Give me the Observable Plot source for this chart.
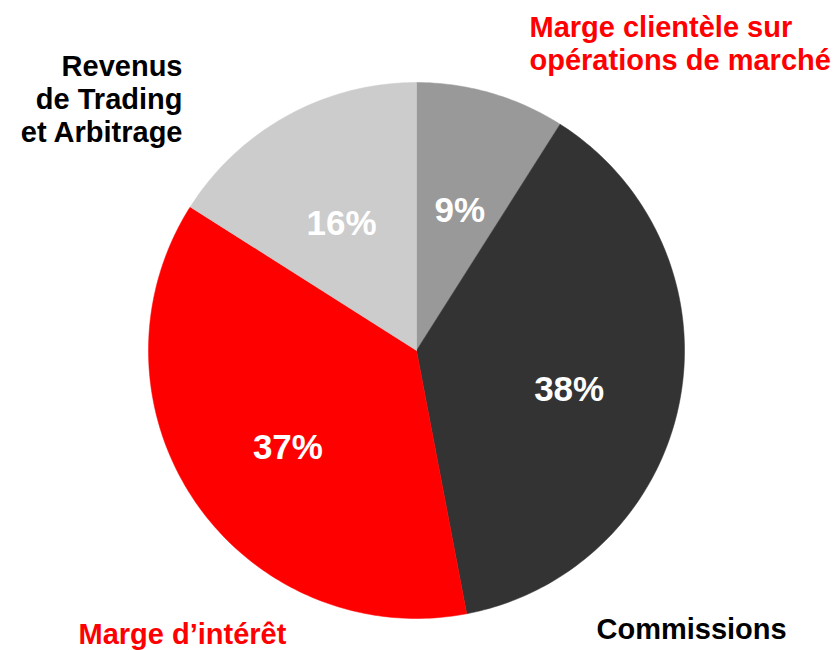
<!DOCTYPE html>
<html>
<head>
<meta charset="utf-8">
<script src="https://cdn.jsdelivr.net/npm/d3@7"></script>
<script src="https://cdn.jsdelivr.net/npm/@observablehq/plot@0.6"></script>
<style>
  html, body { margin: 0; padding: 0; background: #ffffff; }
  g[aria-label="outer-label"] text { text-shadow: 1.5px 1.5px 1.5px rgba(0,0,0,0.35); }
</style>
</head>
<body>
<div id="chart"></div>
<script>
// ---- Data ----
const categories = ["Marge clientèle sur opérations de marché", "Commissions", "Marge d’intérêt", "Revenus de Trading et Arbitrage"];
const shares = [9, 38, 37, 16];
const colors = ["#999999", "#333333", "#ff0000", "#cccccc"];
const pctLabels = ["9%", "38%", "37%", "16%"];

// ---- Geometry (unit circle in data space) ----
const W = 837, H = 650, R = 268, CX = 416, CY = 350;
const pie = d3.pie().sort(null).value(d => d.value)(
  categories.map((c, i) => ({cat: c, value: shares[i], color: colors[i], label: pctLabels[i]}))
);

function slicePoly(a0, a1) {
  const pts = [{x: 0, y: 0}];
  const n = Math.max(2, Math.ceil((a1 - a0) / (Math.PI / 180)));
  for (let k = 0; k <= n; k++) {
    const a = a0 + (a1 - a0) * k / n;
    pts.push({x: Math.sin(a), y: Math.cos(a)});
  }
  pts.push({x: 0, y: 0});
  return pts;
}

const labelR = 0.58;
const centroids = pie.map(p => {
  const m = (p.startAngle + p.endAngle) / 2;
  return {x: labelR * Math.sin(m), y: labelR * Math.cos(m), label: p.data.label};
});

const sliceMarks = pie.map(p =>
  Plot.line(slicePoly(p.startAngle, p.endAngle), {
    x: "x", y: "y", fill: p.data.color, stroke: p.data.color, strokeWidth: 0.5, curve: "linear"
  })
);

const font = "'Liberation Sans', Arial, Helvetica, sans-serif";
const outerLabel = (text, color, anchor, frameAnchor, dx, dy) =>
  Plot.text([text], {
    text: d => d, frameAnchor, dx, dy,
    textAnchor: anchor, lineAnchor: "top", lineHeight: 1.14,
    fontSize: 29, fontWeight: "bold", fontFamily: font, fill: color,
    ariaLabel: "outer-label"
  });

const chart = Plot.plot({
  width: W, height: H,
  margin: 0,
  style: {background: "#ffffff", fontFamily: font, overflow: "visible"},
  x: {domain: [-CX / R, (W - CX) / R], axis: null},
  y: {domain: [-(H - CY) / R, CY / R], axis: null},
  marks: [
    ...sliceMarks,
    Plot.text(centroids, {
      x: "x", y: "y", text: "label", dy: 10,
      fill: "white", fontSize: 35, fontWeight: "bold", fontFamily: font
    }),
    outerLabel("Marge clientèle sur\nopérations de marché", "#ff0000", "start", "top-left", 529, 13),
    outerLabel("Revenus\nde Trading\net Arbitrage", "#000000", "end", "top-left", 182, 52),
    outerLabel("Marge d’intérêt", "#ff0000", "start", "top-left", 78, 620),
    outerLabel("Commissions", "#000000", "start", "top-left", 596, 615)
  ]
});
document.getElementById("chart").appendChild(chart);
</script>
</body>
</html>
